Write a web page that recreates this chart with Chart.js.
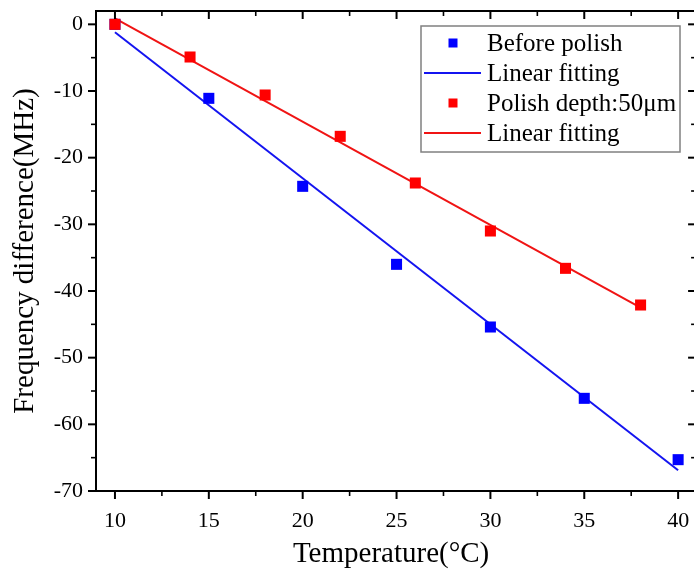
<!DOCTYPE html>
<html>
<head>
<meta charset="utf-8">
<script src="https://cdn.jsdelivr.net/npm/chart.js@4.4.0/dist/chart.umd.min.js"></script>
<style>
html, body { margin: 0; padding: 0; background: #fff; }
#wrap { width: 694px; height: 569px; }
</style>
</head>
<body>
<div id="wrap"><canvas id="chart" width="694" height="569"></canvas></div>
<script>
// data
const beforeT = [10, 15, 20, 25, 30, 35, 40];
const beforeF = [0, -11.1, -24.3, -36.0, -45.4, -56.1, -65.3];
const fitBeforeT = [10, 40];
const fitBeforeF = [-1.2, -66.9];

const polishT = [10, 14, 18, 22, 26, 30, 34, 38];
const polishF = [0, -4.9, -10.6, -16.8, -23.8, -31.0, -36.6, -42.1];
const fitPolishT = [10, 38];
const fitPolishF = [0.9, -42.5];

const xMajor = [10, 15, 20, 25, 30, 35, 40];
const xMinor = [12.5, 17.5, 22.5, 27.5, 32.5, 37.5];
const yMajor = [0, -10, -20, -30, -40, -50, -60, -70];
const yMinor = [-5, -15, -25, -35, -45, -55, -65];
const xFrameEnd = 40.85;   // right axis of the frame sits just past the picture edge

const SERIF = "'Liberation Serif', 'Times New Roman', serif";
const BLUE = '#0000ff';
const RED = '#ff0000';

const pts = (xs, ys) => xs.map((x, i) => ({ x: x, y: ys[i] }));

// no extra room for edge labels, the plot box is fixed
function noPad(s) {
    s.paddingTop = 0;
    s.paddingBottom = 0;
    s.paddingLeft = 0;
    s.paddingRight = 0;
}

// frame, inner/outer ticks and boxed legend (Origin style)
const framePlugin = {
    id: 'frame',
    afterDatasetsDraw(chart) {
        const ctx = chart.ctx;
        const { left, top, bottom } = chart.chartArea;
        const xs = chart.scales.x, ys = chart.scales.y;
        const right = xs.getPixelForValue(xFrameEnd);
        const seg = (x1, y1, x2, y2) => { ctx.beginPath(); ctx.moveTo(x1, y1); ctx.lineTo(x2, y2); ctx.stroke(); };

        ctx.save();
        ctx.strokeStyle = '#000';
        ctx.lineWidth = 2;
        ctx.beginPath();
        ctx.moveTo(right + 2, top);
        ctx.lineTo(left, top);
        ctx.lineTo(left, bottom);
        ctx.lineTo(right + 2, bottom);
        ctx.stroke();

        xMajor.forEach(v => {
            const p = xs.getPixelForValue(v);
            seg(p, bottom, p, bottom + 8);
            seg(p, top, p, top + 8);
        });
        yMajor.forEach(v => {
            const p = ys.getPixelForValue(v);
            seg(left, p, left - 8, p);
            seg(right, p, right - 6, p);
        });
        ctx.lineWidth = 1.6;
        xMinor.forEach(v => {
            const p = xs.getPixelForValue(v);
            seg(p, bottom, p, bottom + 5);
            seg(p, top, p, top + 5);
        });
        yMinor.forEach(v => {
            const p = ys.getPixelForValue(v);
            seg(left, p, left - 5, p);
            seg(right, p, right - 3, p);
        });
        ctx.restore();
    },
    afterDraw(chart) {
        const ctx = chart.ctx;
        const boxX = 421, boxY = 26, boxW = 259, boxH = 126;
        const rowY = [43, 73, 103, 133];
        ctx.save();
        ctx.fillStyle = '#fff';
        ctx.fillRect(boxX, boxY, boxW, boxH);
        ctx.strokeStyle = '#808080';
        ctx.lineWidth = 1.5;
        ctx.strokeRect(boxX, boxY, boxW, boxH);
        ctx.font = '25px ' + SERIF;
        ctx.textBaseline = 'middle';
        ctx.textAlign = 'left';
        chart.data.datasets.forEach((ds, i) => {
            const y = rowY[i];
            if (ds.showLine) {
                ctx.strokeStyle = ds.borderColor;
                ctx.lineWidth = 2;
                ctx.beginPath();
                ctx.moveTo(424, y);
                ctx.lineTo(481, y);
                ctx.stroke();
            } else {
                ctx.fillStyle = ds.backgroundColor;
                ctx.fillRect(453 - 4.5, y - 4.5, 9, 9);
            }
            ctx.fillStyle = '#000';
            ctx.fillText(ds.label, 487, y + 1);
        });
        ctx.restore();
    }
};

new Chart(document.getElementById('chart'), {
    type: 'scatter',
    data: {
        datasets: [
            {
                label: 'Before polish',
                data: pts(beforeT, beforeF),
                backgroundColor: BLUE,
                borderColor: BLUE,
                pointStyle: 'rect',
                pointRadius: 7.8,
                borderWidth: 0,
                showLine: false,
                order: 2
            },
            {
                label: 'Linear fitting',
                data: pts(fitBeforeT, fitBeforeF),
                borderColor: '#1414f0',
                backgroundColor: '#1414f0',
                borderWidth: 2,
                pointRadius: 0,
                showLine: true,
                order: 4
            },
            {
                label: 'Polish depth:50\u03bcm',
                data: pts(polishT, polishF),
                backgroundColor: RED,
                borderColor: RED,
                pointStyle: 'rect',
                pointRadius: 7.8,
                borderWidth: 0,
                showLine: false,
                order: 1
            },
            {
                label: 'Linear fitting',
                data: pts(fitPolishT, fitPolishF),
                borderColor: '#f01414',
                backgroundColor: '#f01414',
                borderWidth: 2,
                pointRadius: 0,
                showLine: true,
                order: 3
            }
        ]
    },
    options: {
        responsive: false,
        animation: false,
        clip: false,
        layout: { padding: { top: 11, right: 0, bottom: 0, left: 0 } },
        plugins: {
            legend: { display: false },
            tooltip: { enabled: false }
        },
        scales: {
            x: {
                type: 'linear',
                min: 8.99,
                max: 40.43,
                afterBuildTicks: s => { s.ticks = xMajor.map(v => ({ value: v })); },
                afterFit: s => { s.height = 78; noPad(s); },
                grid: { display: false, drawTicks: false },
                border: { display: false },
                ticks: {
                    color: '#000',
                    padding: 17,
                    maxRotation: 0,
                    font: { family: SERIF, size: 22 }
                },
                title: {
                    display: true,
                    text: 'Temperature(\u00b0C)',
                    color: '#000',
                    padding: { top: 0, bottom: 0 },
                    font: { family: SERIF, size: 29, lineHeight: 1.0 }
                }
            },
            y: {
                type: 'linear',
                min: -70,
                max: 2,
                afterBuildTicks: s => { s.ticks = yMajor.map(v => ({ value: v })); },
                afterFit: s => { s.width = 96; noPad(s); },
                grid: { display: false, drawTicks: false },
                border: { display: false },
                ticks: {
                    color: '#000',
                    padding: 13,
                    font: { family: SERIF, size: 22 }
                },
                title: {
                    display: true,
                    text: 'Frequency difference(MHz)',
                    color: '#000',
                    padding: { top: 8, bottom: 0 },
                    font: { family: SERIF, size: 29 }
                }
            }
        }
    },
    plugins: [framePlugin]
});
</script>
</body>
</html>
